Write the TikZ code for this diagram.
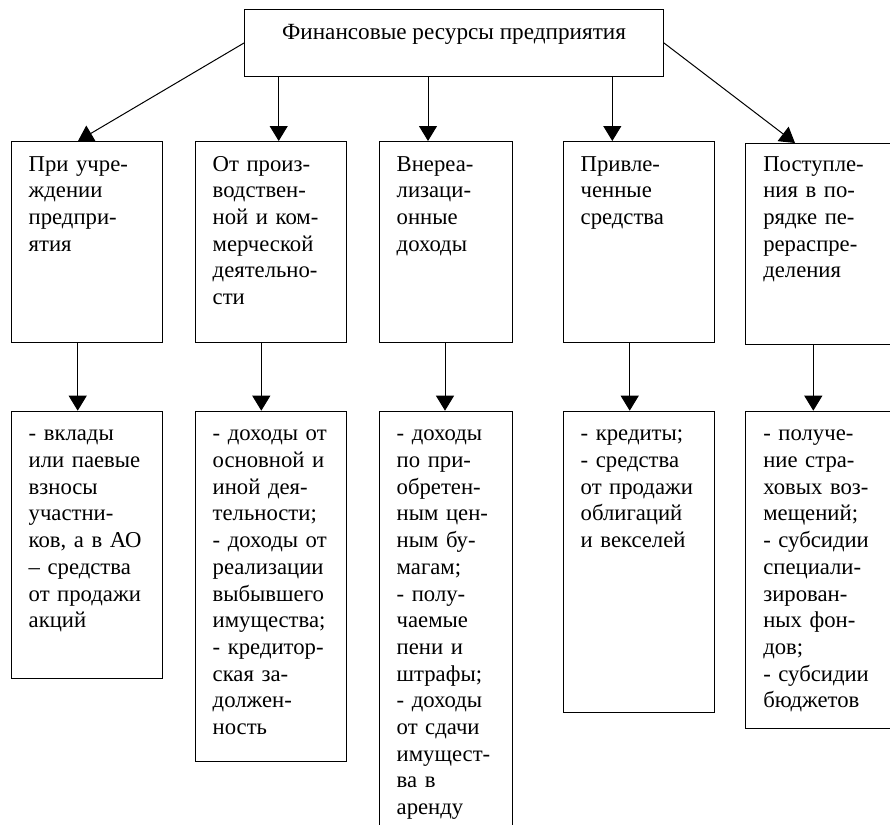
\documentclass[tikz,border=0pt]{standalone}
\usepackage{fontspec}
\setmainfont{Liberation Serif}
\usetikzlibrary{arrows.meta}
\begin{document}
\begin{tikzpicture}[x=1pt,y=-1pt,
 box/.style={draw, line width=1pt, inner sep=0pt, anchor=north west},
 txt/.style={inner sep=0pt, anchor=north west, align=left, text width=200pt, font=\fontsize{22.7}{26.7}\selectfont},
 arr/.style={line width=1pt, -{Triangle[length=15pt,width=18pt]}}]
\useasboundingbox (0,0) rectangle (890,824);
% top
\node[box, minimum width=419pt, minimum height=67pt] (top) at (244,9) {};
\node[inner sep=0pt, anchor=base, font=\fontsize{23.2}{26.7}\selectfont] (toptxt) at ([yshift=-31pt]top.north) {Финансовые ресурсы предприятия};
% row 1
\node[box, minimum width=151pt, minimum height=201pt] (b1) at (10.7,141) {};
\node[box, minimum width=151pt, minimum height=201pt] (b2) at (194.7,141) {};
\node[box, minimum width=133.6pt, minimum height=201pt] (b3) at (378.7,141) {};
\node[box, minimum width=151pt, minimum height=201pt] (b4) at (562.7,141) {};
\node[box, minimum width=151pt, minimum height=201pt] (b5) at (745.3,143) {};
% row 2
\node[box, minimum width=151pt, minimum height=267.3pt] (c1) at (10.7,410.7) {};
\node[box, minimum width=151pt, minimum height=350.3pt] (c2) at (194.7,410.7) {};
\node[box, minimum width=133.6pt, minimum height=430pt] (c3) at (378.7,410.7) {};
\node[box, minimum width=151pt, minimum height=301pt] (c4) at (562.7,410.7) {};
\node[box, minimum width=151pt, minimum height=317pt] (c5) at (745.3,410.7) {};
% texts row 1
\node[txt] (t1) at ([shift={(17.8,11.3)}]b1.north west) {\strut При учре-\\ждении\\предпри-\\ятия};
\node[txt] (t2) at ([shift={(17.8,11.3)}]b2.north west) {\strut От произ-\\водствен-\\ной и ком-\\мерческой\\деятельно-\\сти};
\node[txt] (t3) at ([shift={(17.8,11.3)}]b3.north west) {\strut Внереа-\\лизаци-\\онные\\доходы};
\node[txt] (t4) at ([shift={(17.8,11.3)}]b4.north west) {\strut Привле-\\ченные\\средства};
\node[txt] (t5) at ([shift={(17.8,9.3)}]b5.north west) {\strut Поступле-\\ния в по-\\рядке пе-\\рераспре-\\деления};
% texts row 2
\node[txt] (u1) at ([shift={(17.8,11.3)}]c1.north west) {\strut - вклады\\или паевые\\взносы\\участни-\\ков, а в АО\\– средства\\от продажи\\акций};
\node[txt] (u2) at ([shift={(17.8,11.3)}]c2.north west) {\strut - доходы от\\основной и\\иной дея-\\тельности;\\- доходы от\\реализации\\выбывшего\\имущества;\\- кредитор-\\ская за-\\должен-\\ность};
\node[txt] (u3) at ([shift={(17.8,11.3)}]c3.north west) {\strut - доходы\\по при-\\обретен-\\ным цен-\\ным бу-\\магам;\\- полу-\\чаемые\\пени и\\штрафы;\\- доходы\\от сдачи\\имущест-\\ва в\\аренду};
\node[txt] (u4) at ([shift={(17.8,11.3)}]c4.north west) {\strut - кредиты;\\- средства\\от продажи\\облигаций\\и векселей};
\node[txt] (u5) at ([shift={(17.8,11.3)}]c5.north west) {\strut - получе-\\ние стра-\\ховых воз-\\мещений;\\- субсидии\\специали-\\зирован-\\ных фон-\\дов;\\- субсидии\\бюджетов};
% arrows top -> row 1
\draw[arr] (top.west) -- (b1.north -| 78,0);
\draw[arr] (top.south -| 278.7,0) -- (b2.north -| 278.7,0);
\draw[arr] (top.south -| 428,0) -- (b3.north -| 428,0);
\draw[arr] (top.south -| 612.3,0) -- (b4.north -| 612.3,0);
\draw[arr] (top.east) -- (b5.north -| 795,0);
% arrows row 1 -> row 2
\draw[arr] (b1.south -| 77.7,0) -- (c1.north -| 77.7,0);
\draw[arr] (b2.south -| 261.3,0) -- (c2.north -| 261.3,0);
\draw[arr] (b3.south -| 445,0) -- (c3.north -| 445,0);
\draw[arr] (b4.south -| 629.7,0) -- (c4.north -| 629.7,0);
\draw[arr] (b5.south -| 813.3,0) -- (c5.north -| 813.3,0);
\end{tikzpicture}
\end{document}
